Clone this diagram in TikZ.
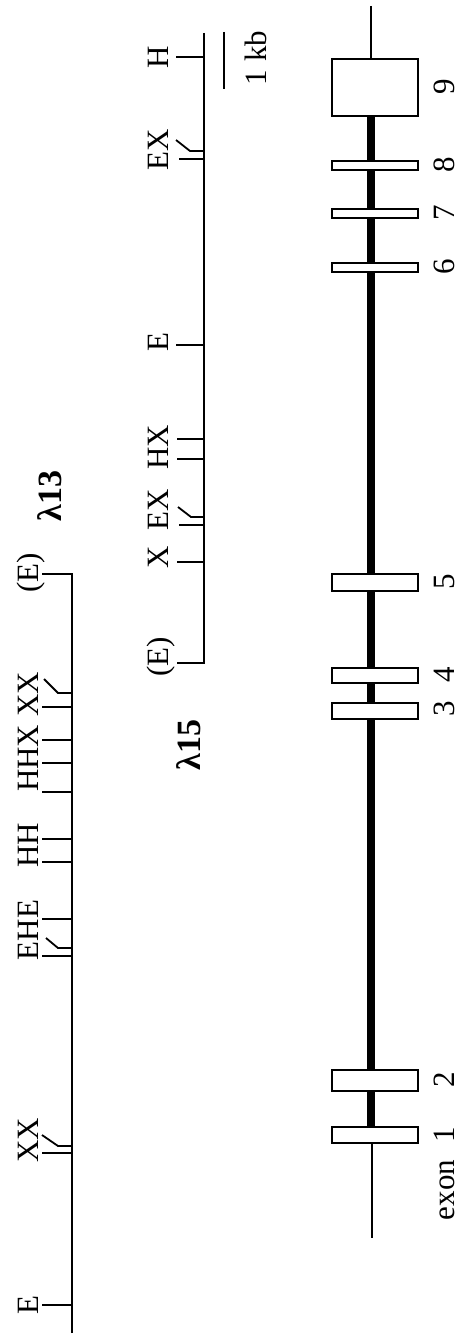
\documentclass[tikz,border=0pt]{standalone}
\usepackage{fontspec}
\setmainfont{Liberation Serif}
\begin{document}
\begin{tikzpicture}[x=1pt,y=-1pt,
  mapline/.style={line width=2pt},
  tickline/.style={line width=1.8pt},
  thinline/.style={line width=1.6pt},
  thickline/.style={line width=8pt},
  exonbox/.style={draw,fill=white,line width=1.6pt},
  lab/.style={rotate=90,anchor=base,inner sep=0pt,font=\fontsize{31}{31}\selectfont},
  biglab/.style={rotate=90,anchor=center,inner sep=0pt,font=\fontsize{34}{34}\selectfont\bfseries}]
\useasboundingbox (0,0) rectangle (461,1337);
% ---------- gene ----------
\draw[thinline] (371,6) -- (371,70);
\draw[thickline] (371,110) -- (371,1135);
\draw[thinline] (372,1135) -- (372,1238);
\foreach \n/\a/\b in {9/59/116,8/161/170,7/209/218,6/263/272,5/574/591,4/668/683,3/703/719,2/1070/1091,1/1127/1143}{
  \draw[exonbox] (332,\a) rectangle (418,\b);
}
\foreach \n/\y in {9/87,8/165,7/213,6/267,5/582,4/675,3/709,2/1080,1/1135}{
  \node[lab] (ex\n) at (454,\y) {\n};
}
\node[lab] (exonlab) at (454,1190) {exon};
% ---------- scale bar ----------
\draw[tickline] (224,32) -- (224,89);
\node[lab] (kb) at (266,58) {1 kb};
% ---------- lambda 15 map ----------
\draw[mapline] (204,33) -- (204,663) -- (177,663);
\foreach \y/\x in {57/176,159/179,345/176,439/177,459/177,525/179,562/177}{
  \draw[tickline] (204,\y) -- (\x,\y);
}
\draw[tickline] (204,151) -- (190,151) -- (176,140);
\draw[tickline] (204,517) -- (191,517) -- (178,507);
\node[lab] (a1) at (168,57) {H};
\node[lab] (a2) at (168,150) {EX};
\node[lab] (a3) at (168,342) {E};
\node[lab] (a4) at (168,447) {HX};
\node[lab] (a5) at (168,510) {EX};
\node[lab] (a6) at (168,557) {X};
\node[lab] (a7) at (168,657) {(E)};
\node[biglab] (l15) at (189,745) {λ15};
% ---------- lambda 13 map ----------
\draw[mapline] (72,1333) -- (72,574) -- (42,574);
\foreach \y in {707,740,763,792,839,862,919,956,1153,1305}{
  \draw[tickline] (72,\y) -- (42,\y);
}
\draw[tickline] (72,693) -- (58,693) -- (44,679);
\draw[tickline] (72,948) -- (58,948) -- (46,938);
\draw[tickline] (72,1146) -- (58,1146) -- (42,1135);
\node[lab] (b1) at (38,573) {(E)};
\node[lab] (b2) at (38,732) {HHX XX};
\node[lab] (b3) at (38,845) {HH};
\node[lab] (b4) at (38,930) {EHE};
\node[lab] (b5) at (38,1140) {XX};
\node[lab] (b6) at (38,1305) {E};
\node[biglab] (l13) at (50,496) {λ13};
\end{tikzpicture}
\end{document}
